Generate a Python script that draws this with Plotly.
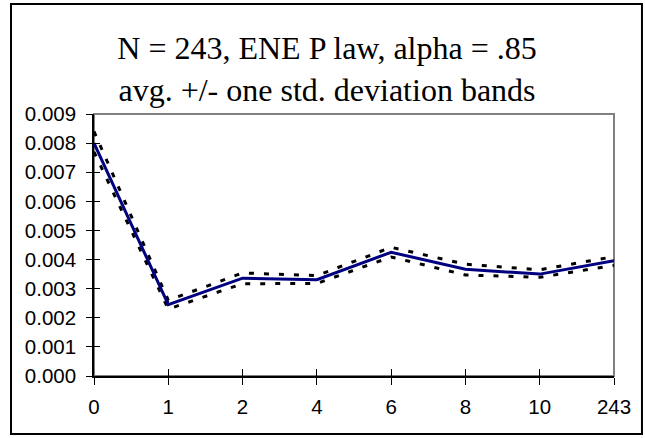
import plotly.graph_objects as go

categories = ["0", "1", "2", "4", "6", "8", "10", "243"]
avg_values = [0.00800, 0.00245, 0.00336, 0.00331, 0.00425, 0.00367, 0.00350, 0.00396]
upper_band = [0.00840, 0.00260, 0.00354, 0.00345, 0.00442, 0.00384, 0.00365, 0.00410]
lower_band = [0.00770, 0.00230, 0.00317, 0.00318, 0.00409, 0.00347, 0.00339, 0.00380]
y_ticks = [0.000, 0.001, 0.002, 0.003, 0.004, 0.005, 0.006, 0.007, 0.008, 0.009]
y_tick_labels = ["%.3f" % v for v in y_ticks]

xs = list(range(len(categories)))

fig = go.Figure()
band_style = dict(color="black", width=3, dash="5px,10px")
fig.add_trace(go.Scatter(x=xs, y=upper_band, mode="lines", line=band_style, showlegend=False))
fig.add_trace(go.Scatter(x=xs, y=lower_band, mode="lines", line=band_style, showlegend=False))
fig.add_trace(go.Scatter(x=xs, y=avg_values, mode="lines",
                         line=dict(color="#000080", width=3), showlegend=False))
# invisible helper trace on overlay axes (for crossing tick marks)
fig.add_trace(go.Scatter(x=[xs[0]], y=[y_ticks[0]], xaxis="x2", yaxis="y2", mode="markers",
                         marker=dict(opacity=0), showlegend=False, hoverinfo="skip"))

axis_font = dict(family="Liberation Sans, Arial, sans-serif", size=20.5, color="black")
xr = [0, len(categories) - 1]
yr = [0, 0.009]

fig.update_layout(
    width=645, height=438,
    margin=dict(l=94, r=31, t=114, b=62),
    paper_bgcolor="white", plot_bgcolor="white",
    title=dict(text="N = 243, ENE P law, alpha = .85<br>avg. +/- one std. deviation bands",
               font=dict(family="Liberation Serif, Times New Roman, serif", size=32, color="black"),
               x=0.507, xanchor="center", xref="container",
               y=0.865, yanchor="top", yref="container"),
    xaxis=dict(range=xr, tickvals=xs, ticktext=categories, showgrid=False, zeroline=False,
               showline=True, linecolor="black", linewidth=1.5,
               ticks="outside", ticklen=7, tickcolor="black", tickwidth=1,
               tickfont=axis_font, ticklabelstandoff=5),
    yaxis=dict(range=yr, tickvals=y_ticks, ticktext=y_tick_labels, showgrid=False, zeroline=False,
               showline=True, linecolor="black", linewidth=1.5,
               ticks="outside", ticklen=6, tickcolor="black", tickwidth=1,
               tickfont=axis_font, ticklabelstandoff=6),
    xaxis2=dict(overlaying="x", range=xr, tickvals=xs, showticklabels=False, showgrid=False,
                zeroline=False, showline=False, ticks="inside", ticklen=7, tickcolor="black",
                tickwidth=1, side="bottom"),
    yaxis2=dict(overlaying="y", range=yr, tickvals=y_ticks, showticklabels=False, showgrid=False,
                zeroline=False, showline=False, ticks="inside", ticklen=6, tickcolor="black",
                tickwidth=1, side="left"),
    shapes=[
        dict(type="rect", xref="paper", yref="paper", x0=0, x1=1, y0=0, y1=1,
             line=dict(color="#808080", width=2), layer="below"),
        dict(type="rect", xref="paper", yref="paper", x0=-0.1596, x1=1.0538, y0=-0.221, y1=1.42,
             line=dict(color="black", width=2)),
    ],
)

fig.write_html("out.html", config={"displayModeBar": False},
               post_script="document.body.style.margin='0';")
